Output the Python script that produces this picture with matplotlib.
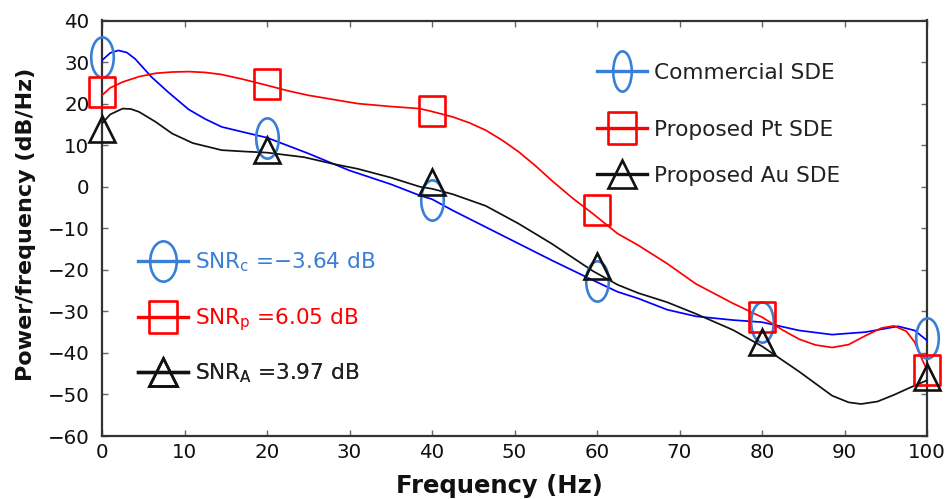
import numpy as np
import matplotlib
matplotlib.use("Agg")
import matplotlib.pyplot as plt
from matplotlib.lines import Line2D
from matplotlib.path import Path

# ---------------- data ----------------
# dense curve readings (Hz, dB/Hz)
freq_c = [0, 1, 2, 3, 4, 5, 6, 8, 10.5, 12.5, 14.5, 17, 20, 25, 30, 35, 38.5, 40,
          42.5, 46.5, 50.5, 54.5, 59.5, 62.5, 65, 68.5, 72, 76.5, 80, 84.5, 88.5,
          92.5, 96.5, 98.5, 100]
psd_c = [30.4, 32.2, 32.8, 32.3, 30.8, 28.6, 26.4, 22.8, 18.6, 16.3, 14.4, 13.2, 11.8,
         8.0, 3.9, 0.6, -2.1, -3.0, -5.7, -9.7, -13.7, -17.7, -22.5, -25.3, -26.9,
         -29.6, -31.2, -32.1, -32.6, -34.6, -35.6, -35.0, -33.6, -34.6, -37.0]

freq_p = [0, 1, 2.5, 4.5, 6.5, 8.5, 10.5, 12.5, 14.5, 17, 20, 22.5, 25, 28, 31, 35,
          38.5, 40, 42.5, 44.5, 46.5, 48.5, 50.5, 52.5, 54.5, 57, 59.5, 62.5, 65,
          68.5, 72, 76.5, 80, 82.5, 84.5, 86.5, 88.5, 90.5, 92.5, 94.5, 96, 97.5,
          98.5, 99.5, 100]
psd_p = [22.0, 23.8, 25.2, 26.5, 27.3, 27.6, 27.7, 27.5, 27.0, 25.9, 24.4, 23.1,
         22.0, 21.0, 20.0, 19.3, 18.8, 18.1, 16.8, 15.4, 13.6, 11.2, 8.4, 5.1, 1.5,
         -2.7, -6.5, -11.3, -14.1, -18.5, -23.4, -28.1, -31.4, -34.5, -36.7, -38.1,
         -38.7, -38.0, -35.9, -34.0, -33.5, -34.8, -37.4, -42.0, -44.0]

freq_a = [0, 1, 2.5, 3.5, 4.5, 6.5, 8.5, 11, 14.5, 17, 20, 24.5, 28, 31, 35, 38.5,
          40, 42.5, 46.5, 50.5, 54.5, 59.5, 62.5, 65, 68.5, 72, 76.5, 80, 84.5,
          88.5, 90.5, 92, 94, 96, 98, 100]
psd_a = [15.2, 17.4, 18.8, 18.7, 18.0, 15.6, 12.8, 10.5, 8.8, 8.5, 8.2, 7.1, 5.5,
         4.3, 2.2, 0.0, -0.5, -1.8, -4.6, -8.9, -13.7, -20.3, -23.6, -25.6, -27.8,
         -30.6, -34.5, -38.4, -44.5, -50.3, -51.9, -52.3, -51.7, -50.1, -48.3, -46.6]

# marker readings at the sampled frequencies
marker_freq = [0, 20, 40, 60, 80, 100]
mk_c = [31.2, 11.8, -3.1, -22.8, -32.5, -36.5]
mk_p = [22.7, 24.8, 18.1, -5.7, -31.3, -44.1]
mk_a = [14.0, 8.75, 1.1, -19.0, -37.3, -45.7]

series_labels = ["Commercial SDE", "Proposed Pt SDE", "Proposed Au SDE"]
snr_labels = ["SNR$_{\\mathregular{c}}$ =\u22123.64 dB",
              "SNR$_{\\mathregular{p}}$ =6.05 dB",
              "SNR$_{\\mathregular{A}}$ =3.97 dB"]
x_ticks = [0, 10, 20, 30, 40, 50, 60, 70, 80, 90, 100]
y_ticks = [-60, -50, -40, -30, -20, -10, 0, 10, 20, 30, 40]

# ---------------- styling ----------------
plt.rcParams["font.family"] = ["DejaVu Sans"]
plt.rcParams["mathtext.fontset"] = "dejavusans"

LINE_BLUE = "#0000ff"
MK_BLUE = "#3a7fd6"
RED = "#ff0000"
BLACK = "#111111"
TXT = "#222222"


def ellipse(aspect):
    c = Path.unit_circle()
    v = c.vertices.copy()
    v[:, 0] *= aspect
    return Path(v, c.codes)


def rect(aspect):
    return Path([(-aspect, -1), (aspect, -1), (aspect, 1), (-aspect, 1), (-aspect, -1)],
                [Path.MOVETO, Path.LINETO, Path.LINETO, Path.LINETO, Path.CLOSEPOLY])


ELL = ellipse(0.56)
ELL_L1 = ellipse(0.46)
ELL_L2 = ellipse(0.66)
SQ = rect(0.85)

W, H = 946, 499
fig = plt.figure(figsize=(W / 100, H / 100), dpi=100)
AX_L, AX_R, AX_T, AX_B = 102, 927, 20.5, 436
ax = fig.add_axes([AX_L / W, 1 - AX_B / H, (AX_R - AX_L) / W, (AX_B - AX_T) / H])


def ax_x(px):
    return (px - AX_L) / (AX_R - AX_L)


def ax_y(py):
    return (AX_B - py) / (AX_B - AX_T)


lw = 1.25
ax.plot(freq_c, psd_c, color=LINE_BLUE, lw=lw, zorder=3)
ax.plot(freq_p, psd_p, color=RED, lw=lw, zorder=3)
ax.plot(freq_a, psd_a, color=BLACK, lw=lw, zorder=3)

mew = 1.9
ax.plot(marker_freq, mk_c, ls="none", marker=ELL, ms=29, mfc="none",
        mec=MK_BLUE, mew=mew, clip_on=False, zorder=4)
ax.plot(marker_freq, mk_p, ls="none", marker=SQ, ms=22, mfc="none",
        mec=RED, mew=mew, clip_on=False, zorder=4)
ax.plot(marker_freq, mk_a, ls="none", marker="^", ms=19, mfc="none",
        mec=BLACK, mew=mew, clip_on=False, zorder=4)

ax.set_xlim(0, 100)
ax.set_ylim(-60, 40)
ax.set_xticks(x_ticks)
ax.set_yticks(y_ticks)
ax.tick_params(direction="in", top=True, right=True, length=4, width=1,
               color="#666666", labelsize=14.3, labelcolor="#111111")
ax.tick_params(axis="x", pad=5)
ax.tick_params(axis="y", pad=9)
for s in ax.spines.values():
    s.set_color("#333333")
    s.set_linewidth(1.6)

ax.set_xlabel("Frequency (Hz)", fontsize=17.5, fontweight="bold", color="#111111")
ax.xaxis.set_label_coords(ax_x(499), ax_y(493))
ax.xaxis.label.set_va("baseline")
ax.set_ylabel("Power/frequency (dB/Hz)", fontsize=16, fontweight="bold", color="#111111")
ax.yaxis.set_label_coords(ax_x(36), ax_y(224.5))

fs_leg = 15.6


def add_row(handle, label, color, x_px, y_px, pad):
    lg = ax.legend([handle], [label], loc="center left",
                   bbox_to_anchor=(ax_x(x_px), ax_y(y_px)),
                   frameon=False, fontsize=fs_leg, handlelength=2.32,
                   handletextpad=pad, borderpad=0, borderaxespad=0)
    lg.get_texts()[0].set_color(color)
    ax.add_artist(lg)


# legend 1 (series)
h1 = [Line2D([], [], color=MK_BLUE, lw=2.4, marker=ELL_L1, ms=29, mfc="none", mec=MK_BLUE, mew=mew),
      Line2D([], [], color=RED, lw=2.4, marker=SQ, ms=23, mfc="none", mec=RED, mew=mew),
      Line2D([], [], color=BLACK, lw=2.4, marker="^", ms=20, mfc="none", mec=BLACK, mew=mew)]
for h, lab, yc in zip(h1, series_labels, [73, 130, 176]):
    add_row(h, lab, TXT, 597, yc, 0.32)

# legend 2 (SNR)
h2 = [Line2D([], [], color=MK_BLUE, lw=2.4, marker=ELL_L2, ms=29, mfc="none", mec=MK_BLUE, mew=mew),
      Line2D([], [], color=RED, lw=2.4, marker=SQ, ms=23, mfc="none", mec=RED, mew=mew),
      Line2D([], [], color=BLACK, lw=2.4, marker="^", ms=20, mfc="none", mec=BLACK, mew=mew)]
for h, lab, c, yc in zip(h2, snr_labels, [MK_BLUE, RED, TXT], [262, 320, 373]):
    add_row(h, lab, c, 138, yc, 0.33)

fig.savefig("out.png", dpi=100)
